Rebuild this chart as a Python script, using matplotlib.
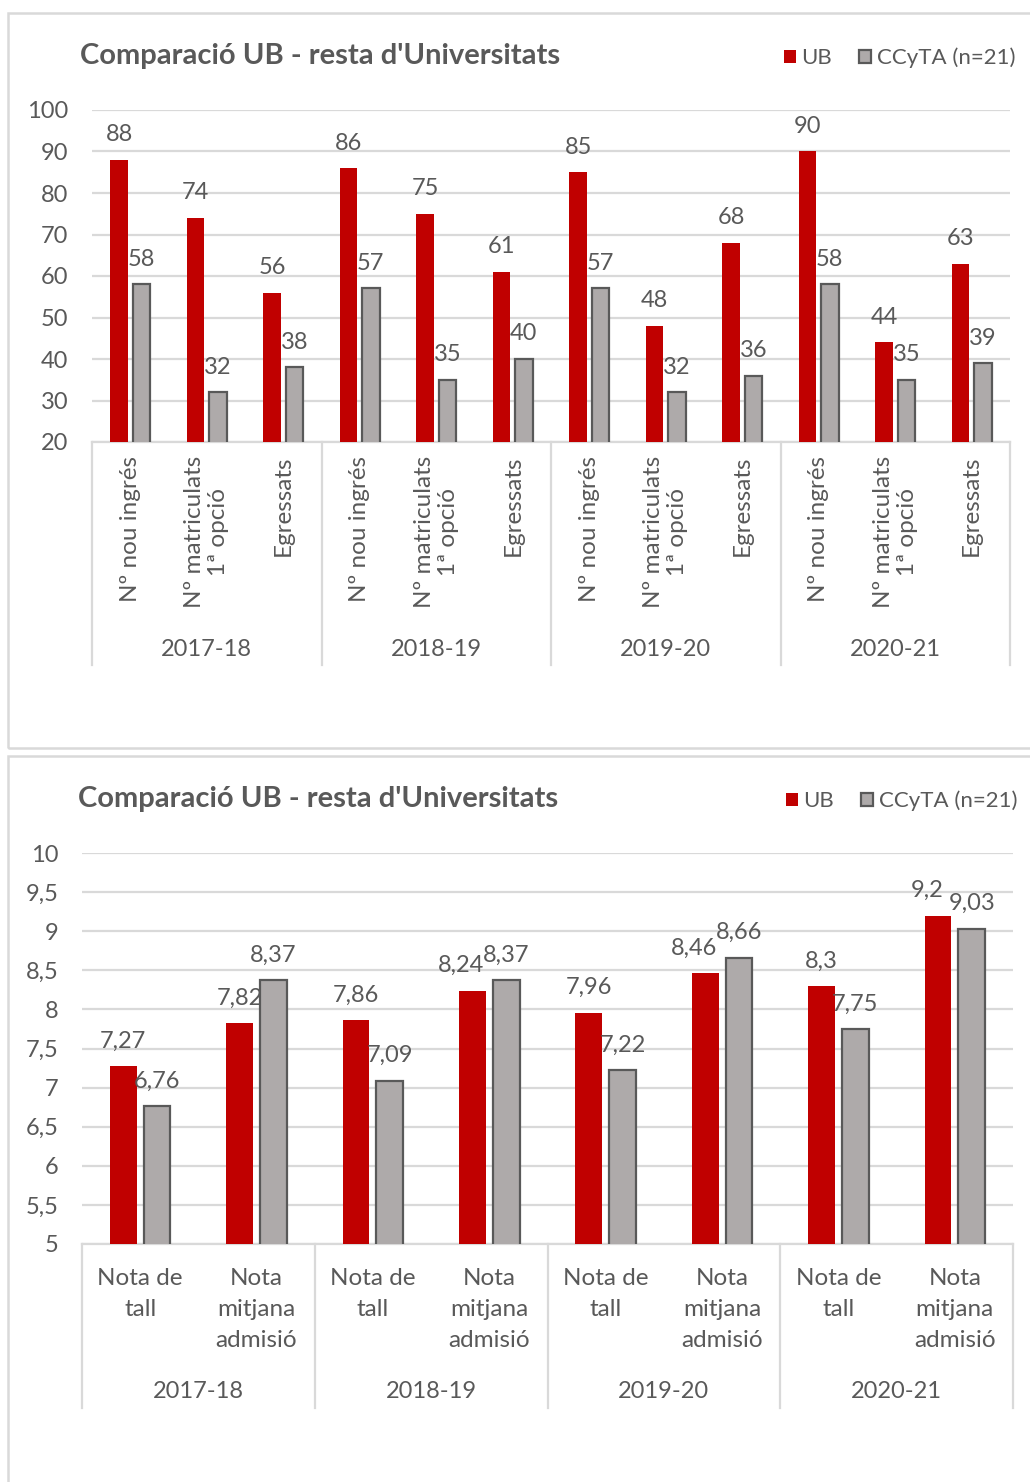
import matplotlib
matplotlib.use("Agg")
import matplotlib.pyplot as plt
from matplotlib.patches import Rectangle
from matplotlib.ticker import FuncFormatter

# --- data -------------------------------------------------------------
years = ["2017-18", "2018-19", "2019-20", "2020-21"]

top_cats = ["Nº nou ingrés", "Nº matriculats\n1ª opció", "Egressats"]
top_ub = [88, 74, 56, 86, 75, 61, 85, 48, 68, 90, 44, 63]
top_ccyta = [58, 32, 38, 57, 35, 40, 57, 32, 36, 58, 35, 39]

bot_cats = ["Nota de\ntall", "Nota\nmitjana\nadmisió"]
bot_ub = [7.27, 7.82, 7.86, 8.24, 7.96, 8.46, 8.3, 9.2]
bot_ccyta = [6.76, 8.37, 7.09, 8.37, 7.22, 8.66, 7.75, 9.03]

title = "Comparació UB - resta d'Universitats"
series_names = ["UB", "CCyTA (n=21)"]

RED = "#C00000"
GREY = "#AEAAAA"
EDGE = "#595959"
TXT = "#595959"
GRID = "#D9D9D9"
FS = 17

plt.rcParams["font.family"] = ["Lato", "DejaVu Sans"]
plt.rcParams["text.color"] = TXT

W, H = 1030, 1482
fig = plt.figure(figsize=(W / 100, H / 100), dpi=100)


def px_box(x0, y0, x1, y1):
    """Figure-fraction [left, bottom, width, height] from pixel corners."""
    return [x0 / W, 1 - y1 / H, (x1 - x0) / W, (y1 - y0) / H]


def comma(v, _=None):
    return f"{v:g}".replace(".", ",")


def draw_panel(ax, cats, ub, cc, ylim, ystep, tick_kw, year_y, sep_y, lspace):
    n = len(ub)
    xs = list(range(n))
    off, bw = 0.145, 0.23
    b1 = ax.bar([x - off for x in xs], ub, bw, color=RED, zorder=3,
                label=series_names[0])
    b2 = ax.bar([x + off for x in xs], cc, bw, color=GREY, edgecolor=EDGE,
                linewidth=1.6, zorder=3, label=series_names[1])
    # labels of near-equal pairs would collide, so the UB one steps left
    near = 0.06 * (ylim[1] - ylim[0])
    for rect, v, w in zip(b1, ub, cc):
        dx = -8 if abs(v - w) < near else 0
        ax.annotate(comma(v), (rect.get_x() + rect.get_width() / 2, v),
                    xytext=(dx, 10.5), textcoords="offset points",
                    ha="center", va="bottom", fontsize=FS, color=TXT)
    for rect, v in zip(b2, cc):
        ax.annotate(comma(v), (rect.get_x() + rect.get_width() / 2, v),
                    xytext=(0, 10.5), textcoords="offset points",
                    ha="center", va="bottom", fontsize=FS, color=TXT)

    ax.set_xlim(-0.5, n - 0.5)
    ax.set_ylim(*ylim)
    ticks = []
    t = ylim[0]
    while t <= ylim[1] + 1e-9:
        ticks.append(round(t, 2))
        t += ystep
    ax.set_yticks(ticks)
    ax.yaxis.set_major_formatter(FuncFormatter(comma))
    ax.grid(axis="y", color=GRID, linewidth=1.6, zorder=0)
    for s in ("top", "right", "left"):
        ax.spines[s].set_visible(False)
    ax.spines["bottom"].set_color(GRID)
    ax.spines["bottom"].set_linewidth(1.6)
    ax.tick_params(axis="y", length=0, pad=17, labelsize=FS, labelcolor=TXT)

    labels = cats * len(years)
    ax.set_xticks(xs)
    ax.set_xticklabels(labels, fontsize=FS + 0.5, color=TXT,
                       linespacing=lspace, **tick_kw)
    ax.tick_params(axis="x", length=0)

    per = len(cats)
    trans = ax.get_xaxis_transform()
    for g in range(len(years) + 1):
        xg = g * per - 0.5
        ax.plot([xg, xg], [0, sep_y], transform=trans, color=GRID,
                linewidth=1.6, clip_on=False)
    for g, yr in enumerate(years):
        ax.text(g * per + (per - 1) / 2, year_y, yr, transform=trans,
                ha="center", va="center", fontsize=FS, color=TXT)
    return b1, b2


# --- panel frames -------------------------------------------------------
for (x0, y0, x1, y1) in ((8, 13, 1040, 748), (8, 756, 1040, 1495)):
    fig.patches.append(Rectangle((x0 / W, 1 - y1 / H), (x1 - x0) / W,
                                 (y1 - y0) / H, transform=fig.transFigure,
                                 fill=False, edgecolor=GRID, linewidth=1.8))

# --- top chart ----------------------------------------------------------
ax1 = fig.add_axes(px_box(92, 110, 1010, 442))
h1 = draw_panel(ax1, top_cats, top_ub, top_ccyta, (20, 100), 10,
                dict(rotation=90, ha="center", va="top"),
                (442 - 649) / 332, (442 - 665) / 332, 1.15)
ax1.tick_params(axis="x", pad=10)
fig.text(80 / W, 1 - 56 / H, title, fontsize=21, fontweight="bold",
         color=TXT, va="center", ha="left")
fig.legend(h1, series_names, loc="center right",
           bbox_to_anchor=(1035 / W, 1 - 58 / H), ncol=2, frameon=False,
           fontsize=16, handlelength=0.55, handleheight=0.55,
           handletextpad=0.25, columnspacing=1.2, labelcolor=TXT)

# --- bottom chart -------------------------------------------------------
ax2 = fig.add_axes(px_box(82, 853, 1013, 1244))
h2 = draw_panel(ax2, bot_cats, bot_ub, bot_ccyta, (5, 10), 0.5,
                dict(rotation=0, ha="center", va="top"),
                (1244 - 1392) / 391, (1244 - 1408) / 391, 1.6)
ax2.tick_params(axis="x", pad=17)
fig.text(78 / W, 1 - 799 / H, title, fontsize=21, fontweight="bold",
         color=TXT, va="center", ha="left")
fig.legend(h2, series_names, loc="center right",
           bbox_to_anchor=(1037 / W, 1 - 801 / H), ncol=2, frameon=False,
           fontsize=16, handlelength=0.55, handleheight=0.55,
           handletextpad=0.25, columnspacing=1.2, labelcolor=TXT)

fig.savefig("out.png", dpi=100)
